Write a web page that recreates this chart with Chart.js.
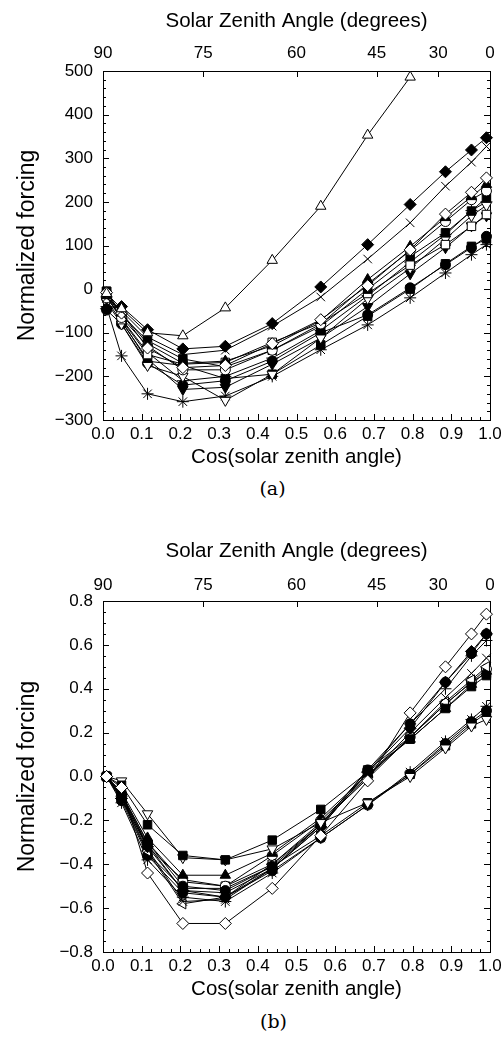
<!DOCTYPE html>
<html>
<head>
<meta charset="utf-8">
<script src="https://cdn.jsdelivr.net/npm/chart.js@4"></script>
<style>
  body { margin: 0; background: #fff; }
  #wrap { position: relative; width: 501px; height: 1037px; }
  canvas { position: absolute; left: 0; }
  .tag { position: absolute; width: 501px; text-align: center;
         font-family: "DejaVu Serif", "Liberation Serif", serif; font-size: 19px; color: #000; }
</style>
</head>
<body>
<div id="wrap">
  <canvas id="chartA" width="501" height="470" style="top:0"></canvas>
  <div class="tag" style="top:477px;left:22px">(a)</div>
  <canvas id="chartB" width="501" height="472" style="top:530px"></canvas>
  <div class="tag" style="top:1010px;left:23px">(b)</div>
</div>
<script>
// cos(solar zenith angle) at which forcing was computed
const cosSza = [0.0092, 0.0479, 0.1151, 0.2063, 0.3161, 0.4373, 0.5627, 0.6839, 0.7937, 0.8849, 0.9521, 0.9908];
const zenithLabels = [90, 75, 60, 45, 30, 0];

// panel (a) series
const aOpenTri     = [-10, -45, -100, -107, -43, 66, 190, 353, 486, null, null, null];
const aFillDiamond = [-45, -40, -93, -137, -131, -79, 5, 102, 194, 269, 319, 347];
const aCross       = [-20, -50, -110, -150, -140, -85, -18, 69, 152, 236, 291, 327];
const aOpenDiamond = [-8, -55, -135, -180, -175, -125, -70, 8, 90, 172, 222, 255];
const aFillTri     = [-15, -55, -125, -170, -165, -130, -72, 22, 98, 164, 212, 240];
const aOpenCircle  = [-20, -65, -130, -185, -185, -140, -80, 12, 88, 155, 205, 225];
const aFillSquare  = [-5, -60, -118, -160, -178, -140, -85, 0, 75, 129, 179, 210];
const aOpenSquare  = [-5, -70, -150, -172, -168, -122, -78, -10, 55, 102, 144, 171];
const aOpenDownTri = [-30, -80, -175, -200, -255, -195, -112, -22, 48, 115, 168, 192];
const aFillCircle  = [-48, -80, -170, -220, -210, -165, -100, -59, 3, 56, 95, 121];
const aStar        = [-40, -153, -240, -258, -245, -200, -139, -82, -20, 37, 79, 102];
const aFillDownTri = [-25, -75, -160, -230, -225, -172, -112, -40, 35, 95, 145, 168];
const aPlus        = [-18, -68, -145, -210, -200, -158, -95, -15, 62, 125, 180, 200];
const aFillSquare2 = [-12, -72, -165, -175, -205, -195, -128, -62, 0, 58, 98, 115];

// panel (b) series
const bOpenDiamond = [0, -0.05, -0.44, -0.67, -0.67, -0.51, -0.27, -0.02, 0.29, 0.50, 0.65, 0.74];
const bFillSquare  = [0, -0.04, -0.22, -0.36, -0.38, -0.29, -0.15, 0.02, 0.17, 0.31, 0.41, 0.46];
const bOpenDownTri = [0, -0.02, -0.17, -0.37, -0.38, -0.33, -0.21, -0.12, 0.00, 0.13, 0.23, 0.26];
const bFillCircle  = [0, -0.08, -0.30, -0.50, -0.52, -0.41, -0.22, 0.03, 0.24, 0.43, 0.56, 0.65];
const bFillDiamond = [0, -0.10, -0.32, -0.52, -0.55, -0.42, -0.23, 0.02, 0.22, 0.43, 0.57, 0.65];
const bCross       = [0, -0.09, -0.33, -0.57, -0.56, -0.42, -0.22, 0.00, 0.20, 0.36, 0.47, 0.54];
const bOpenLeftTri = [0, -0.10, -0.34, -0.58, -0.55, -0.40, -0.21, -0.01, 0.18, 0.34, 0.44, 0.50];
const bFillTri     = [0, -0.07, -0.28, -0.45, -0.45, -0.35, -0.19, 0.01, 0.17, 0.31, 0.42, 0.48];
const bOpenCircle  = [0, -0.08, -0.30, -0.48, -0.50, -0.36, -0.20, 0.00, 0.18, 0.33, 0.43, 0.49];
const bPlus        = [0, -0.09, -0.31, -0.52, -0.53, -0.42, -0.23, 0.02, 0.24, 0.40, 0.55, 0.62];
const bFillCircle2 = [0, -0.11, -0.36, -0.53, -0.55, -0.43, -0.28, -0.13, 0.01, 0.15, 0.25, 0.30];
const bStar        = [0, -0.12, -0.38, -0.55, -0.57, -0.44, -0.28, -0.13, 0.02, 0.16, 0.26, 0.32];
const bFillSquare2 = [0, -0.10, -0.35, -0.51, -0.51, -0.41, -0.27, -0.12, 0.01, 0.14, 0.24, 0.29];
const bOpenSquare  = [0, -0.08, -0.32, -0.47, -0.50, -0.40, -0.22, 0.03, 0.18, 0.33, 0.43, 0.47];

// marker looks
const M = {
  openTri:     { pointStyle: 'triangle', fill: '#fff', r: 6 },
  fillTri:     { pointStyle: 'triangle', fill: '#000', r: 6 },
  openDownTri: { pointStyle: 'triangle', fill: '#fff', r: 6, rot: 180 },
  fillDownTri: { pointStyle: 'triangle', fill: '#000', r: 6, rot: 180 },
  openLeftTri: { pointStyle: 'triangle', fill: '#fff', r: 6, rot: 270 },
  openDiamond: { pointStyle: 'rectRot', fill: '#fff', r: 6 },
  fillDiamond: { pointStyle: 'rectRot', fill: '#000', r: 6 },
  openSquare:  { pointStyle: 'rect', fill: '#fff', r: 6 },
  fillSquare:  { pointStyle: 'rect', fill: '#000', r: 6 },
  openCircle:  { pointStyle: 'circle', fill: '#fff', r: 5 },
  fillCircle:  { pointStyle: 'circle', fill: '#000', r: 5 },
  cross:       { pointStyle: 'crossRot', fill: '#fff', r: 6 },
  plus:        { pointStyle: 'cross', fill: '#fff', r: 6 },
  star:        { pointStyle: 'star', fill: '#fff', r: 6 }
};

function series(values, m) {
  return {
    data: values.map((v, i) => ({ x: cosSza[i], y: v })),
    borderColor: '#000',
    borderWidth: 1,
    pointStyle: m.pointStyle,
    pointRadius: m.r,
    pointRotation: m.rot || 0,
    pointBackgroundColor: m.fill,
    pointBorderColor: '#000',
    pointBorderWidth: 1,
    clip: false,
    spanGaps: false
  };
}

const FONT = '"Liberation Sans", Arial, Helvetica, sans-serif';
const minus = s => String(s).replace('-', '\u2212');

// box with inward ticks on all four sides
const frameTicks = {
  id: 'frameTicks',
  beforeDatasetsDraw(chart, args, o) {
    const { ctx, chartArea: a, scales } = chart;
    ctx.save();
    ctx.strokeStyle = '#000';
    ctx.lineWidth = 1;
    ctx.strokeRect(a.left + 0.5, a.top + 0.5, a.right - a.left, a.bottom - a.top);
    ctx.beginPath();
    const x = scales.x, y = scales.y, t = scales.xTop;
    const nx = Math.round((x.max - x.min) / o.xMinor);
    for (let i = 1; i < nx; i++) {
      const px = Math.round(x.getPixelForValue(x.min + i * o.xMinor)) + 0.5;
      const len = i % o.xEvery === 0 ? 6 : 3;
      ctx.moveTo(px, a.bottom); ctx.lineTo(px, a.bottom - len);
    }
    const ny = Math.round((y.max - y.min) / o.yMinor);
    for (let i = 1; i < ny; i++) {
      const py = Math.round(y.getPixelForValue(y.min + i * o.yMinor)) + 0.5;
      const len = i % o.yEvery === 0 ? 6 : 3;
      ctx.moveTo(a.left, py); ctx.lineTo(a.left + len, py);
      ctx.moveTo(a.right, py); ctx.lineTo(a.right - len, py);
    }
    t.ticks.forEach(tk => {
      const px = Math.round(t.getPixelForValue(tk.value)) + 0.5;
      if (px > a.left + 1 && px < a.right - 1) { ctx.moveTo(px, a.top); ctx.lineTo(px, a.top + 6); }
    });
    ctx.stroke();
    ctx.restore();
  }
};

function makeChart(id, datasets, y, frame, topPad) {
  return new Chart(document.getElementById(id), {
    type: 'line',
    data: { datasets },
    plugins: [frameTicks],
    options: {
      responsive: false,
      animation: false,
      devicePixelRatio: 1,
      layout: { padding: { left: 0, right: 11, top: 0, bottom: 0 } },
      plugins: { legend: { display: false }, tooltip: { enabled: false }, frameTicks: frame },
      scales: {
        x: {
          type: 'linear', position: 'bottom', min: 0, max: 1,
          grid: { display: false, drawTicks: false }, border: { display: false },
          ticks: { stepSize: 0.1, padding: 4, color: '#000', maxRotation: 0, autoSkip: false,
                   font: { family: FONT, size: 17 }, callback: v => v.toFixed(1) },
          title: { display: true, text: 'Cos(solar zenith angle)', color: '#000',
                   font: { family: FONT, size: 20.5 }, padding: { top: 0, bottom: 0 } },
          afterFit: s => { s.height = 50; s.paddingLeft = 0; s.paddingRight = 0; }
        },
        xTop: {
          type: 'linear', position: 'top', min: 0, max: 1,
          grid: { display: false, drawTicks: false }, border: { display: false },
          afterBuildTicks: s => { s.ticks = zenithLabels.map(a => ({ value: Math.cos(a * Math.PI / 180) })); },
          ticks: { padding: topPad, color: '#000', maxRotation: 0, autoSkip: false,
                   font: { family: FONT, size: 17 }, callback: (v, i) => String(zenithLabels[i]) },
          title: { display: true, text: 'Solar Zenith Angle (degrees)', color: '#000',
                   font: { family: FONT, size: 20.5 }, padding: { top: 9, bottom: 0 } },
          afterFit: s => { s.height = 71; s.paddingLeft = 0; s.paddingRight = 0; }
        },
        y: {
          type: 'linear', position: 'left', min: y.min, max: y.max,
          grid: { display: false, drawTicks: false }, border: { display: false },
          ticks: { stepSize: y.step, padding: 10, color: '#000', autoSkip: false,
                   font: { family: FONT, size: 17 },
                   callback: v => minus(Math.abs(v) < 1e-9 ? (0).toFixed(y.dec) : v.toFixed(y.dec)) },
          title: { display: true, text: 'Normalized forcing', color: '#000',
                   font: { family: FONT, size: 23 }, padding: { top: 14, bottom: 0 } },
          afterFit: s => { s.width = 103; s.paddingTop = 0; s.paddingBottom = 0; }
        }
      }
    }
  });
}

makeChart('chartA', [
  series(aOpenTri, M.openTri),
  series(aFillDiamond, M.fillDiamond),
  series(aCross, M.cross),
  series(aOpenDiamond, M.openDiamond),
  series(aFillTri, M.fillTri),
  series(aOpenCircle, M.openCircle),
  series(aFillSquare, M.fillSquare),
  series(aOpenSquare, M.openSquare),
  series(aOpenDownTri, M.openDownTri),
  series(aFillCircle, M.fillCircle),
  series(aStar, M.star),
  series(aFillDownTri, M.fillDownTri),
  series(aPlus, M.plus),
  series(aFillSquare2, M.fillSquare)
], { min: -300, max: 500, step: 100, dec: 0 }, { xMinor: 0.025, xEvery: 4, yMinor: 20, yEvery: 5 }, 7);

makeChart('chartB', [
  series(bOpenDiamond, M.openDiamond),
  series(bFillSquare, M.fillSquare),
  series(bOpenDownTri, M.openDownTri),
  series(bFillCircle, M.fillCircle),
  series(bFillDiamond, M.fillDiamond),
  series(bCross, M.cross),
  series(bOpenLeftTri, M.openLeftTri),
  series(bFillTri, M.fillTri),
  series(bOpenCircle, M.openCircle),
  series(bPlus, M.plus),
  series(bFillCircle2, M.fillCircle),
  series(bStar, M.star),
  series(bFillSquare2, M.fillSquare),
  series(bOpenSquare, M.openSquare)
], { min: -0.8, max: 0.8, step: 0.2, dec: 1 }, { xMinor: 0.025, xEvery: 4, yMinor: 0.05, yEvery: 4 }, 5);
</script>
</body>
</html>
